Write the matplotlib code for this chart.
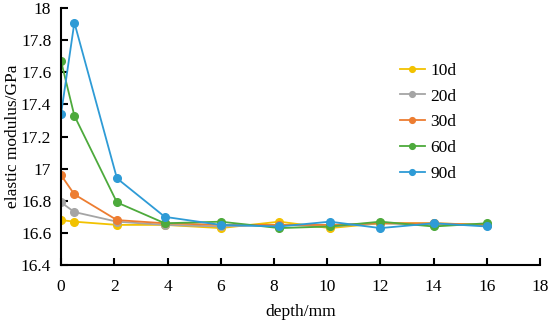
import matplotlib
matplotlib.use("Agg")
import matplotlib.pyplot as plt

plt.rcParams["font.family"] = ["Liberation Serif", "DejaVu Serif"]

depth = [0, 0.5, 2.1, 3.9, 6.0, 8.2, 10.1, 12.0, 14.0, 16.0]
e_10d = [16.68, 16.67, 16.65, 16.65, 16.63, 16.67, 16.63, 16.66, 16.66, 16.65]
e_20d = [16.79, 16.73, 16.67, 16.65, 16.64, 16.65, 16.64, 16.66, 16.65, 16.65]
e_30d = [16.96, 16.84, 16.68, 16.66, 16.65, 16.65, 16.65, 16.66, 16.66, 16.65]
e_60d = [17.67, 17.33, 16.79, 16.66, 16.67, 16.63, 16.64, 16.67, 16.64, 16.66]
e_90d = [17.34, 17.91, 16.94, 16.70, 16.65, 16.64, 16.67, 16.63, 16.66, 16.64]

series = [
    ("10d", e_10d, "#F2C200"),
    ("20d", e_20d, "#A5A5A5"),
    ("30d", e_30d, "#ED7D31"),
    ("60d", e_60d, "#4DAA3C"),
    ("90d", e_90d, "#2E9BD6"),
]

FS = 12.5

fig = plt.figure(figsize=(5.5, 3.24), dpi=100)
ax = fig.add_axes([0.111, 0.182, 0.871, 0.793])

for label, vals, color in series:
    ax.plot(depth, vals, color=color, marker="o", markersize=5.5, linewidth=1.3, label=label)

ax.set_xlim(0, 18)
ax.set_ylim(16.4, 18)
ax.set_xticks(range(0, 19, 2))
ax.set_yticks([16.4, 16.6, 16.8, 17.0, 17.2, 17.4, 17.6, 17.8, 18.0])
ax.set_yticklabels(["16.4", "16.6", "16.8", "17", "17.2", "17.4", "17.6", "17.8", "18"])
ax.spines["top"].set_visible(False)
ax.spines["right"].set_visible(False)
for s in ["left", "bottom"]:
    ax.spines[s].set_linewidth(1.5)
ax.tick_params(direction="in", length=5, width=1.5, labelsize=FS)
ax.tick_params(axis="x", pad=10)
ax.tick_params(axis="y", pad=7)
ax.set_xlabel("depth/mm", fontsize=FS)
ax.xaxis.set_label_coords(0.5, -0.15)
ax.set_ylabel("elastic modulus/GPa", fontsize=FS)
ax.yaxis.set_label_coords(-0.083, 0.5)

ax.legend(loc="center left", bbox_to_anchor=(0.708, 0.556), frameon=False,
          fontsize=FS, handlelength=1.4, handletextpad=0.35, labelspacing=0.55,
          borderpad=0, borderaxespad=0, markerscale=0.75)

fig.savefig("out.png", dpi=100)
